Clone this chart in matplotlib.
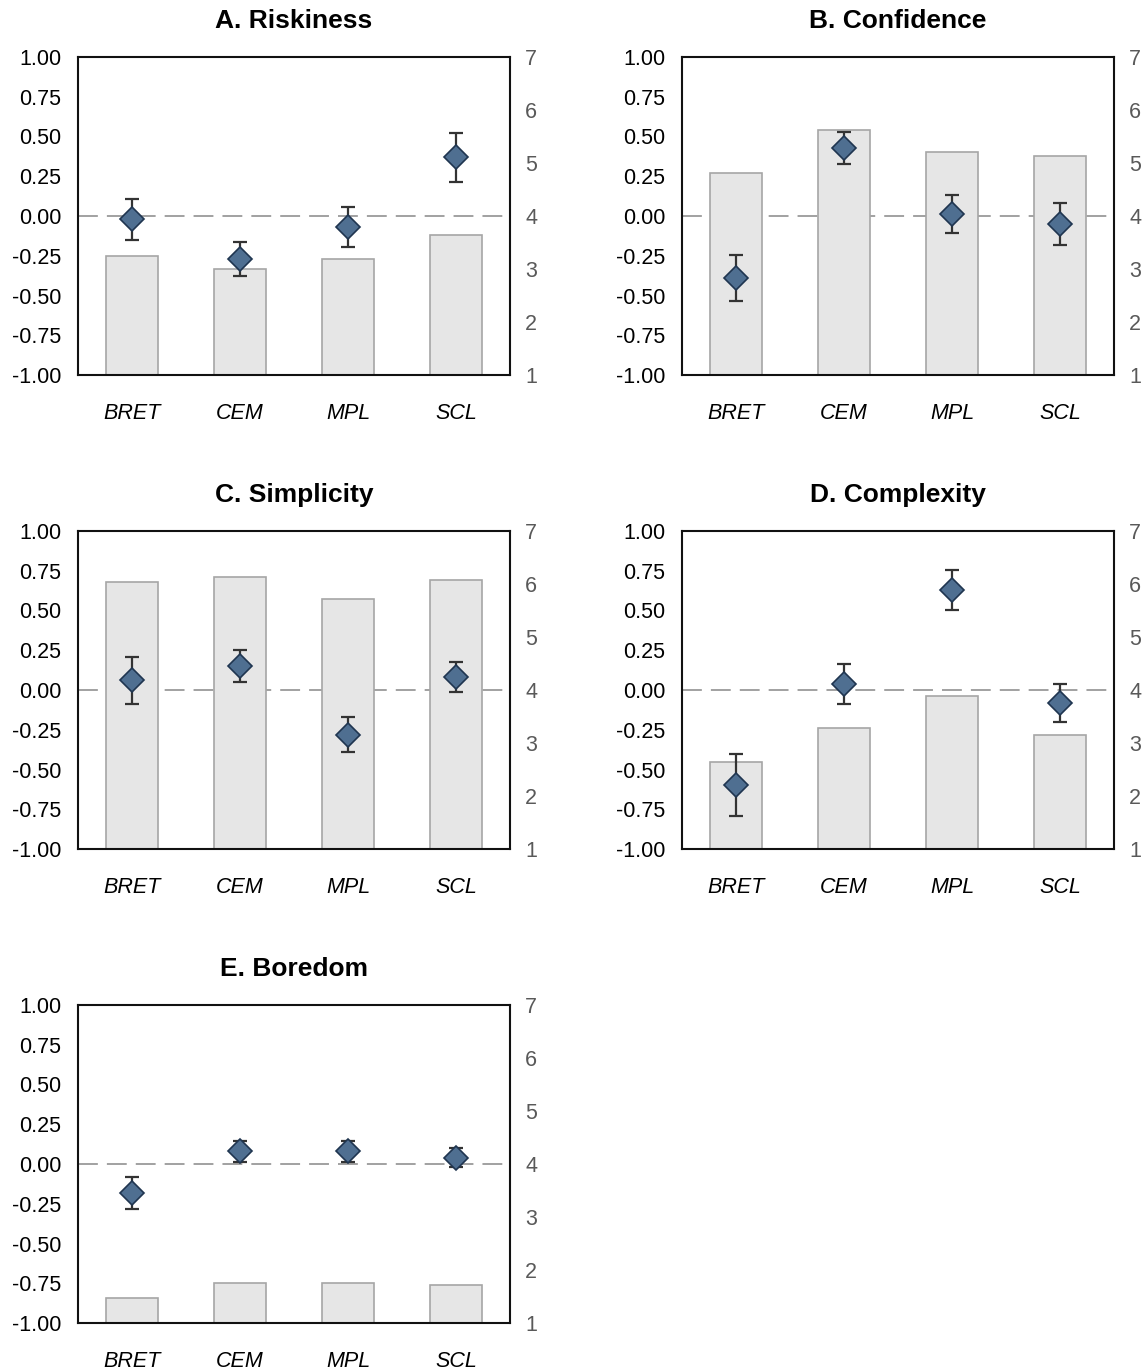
import matplotlib.pyplot as plt
import numpy as np

plt.rcParams['font.family'] = ['Liberation Sans', 'DejaVu Sans']

methods = ["BRET", "CEM", "MPL", "SCL"]
titles = ["A. Riskiness", "B. Confidence", "C. Simplicity", "D. Complexity", "E. Boredom"]

# bar heights, 1-7 rating scale (right axis)
bar_riskiness = [3.25, 3.00, 3.19, 3.64]
bar_confidence = [4.81, 5.62, 5.20, 5.14]
bar_simplicity = [6.04, 6.13, 5.71, 6.07]
bar_complexity = [2.65, 3.28, 3.88, 3.16]
bar_boredom = [1.48, 1.75, 1.75, 1.72]

# diamond estimates and error half-widths (left axis)
est_riskiness = [-0.02, -0.27, -0.07, 0.37]
err_riskiness = [0.13, 0.105, 0.125, 0.155]
est_confidence = [-0.39, 0.43, 0.01, -0.05]
err_confidence = [0.145, 0.10, 0.12, 0.13]
est_simplicity = [0.06, 0.15, -0.28, 0.08]
err_simplicity = [0.15, 0.10, 0.11, 0.095]
est_complexity = [-0.60, 0.04, 0.63, -0.08]
err_complexity = [0.195, 0.125, 0.125, 0.12]
est_boredom = [-0.18, 0.08, 0.08, 0.04]
err_boredom = [0.10, 0.065, 0.065, 0.06]

bars = [bar_riskiness, bar_confidence, bar_simplicity, bar_complexity, bar_boredom]
ests = [est_riskiness, est_confidence, est_simplicity, est_complexity, est_boredom]
errs = [err_riskiness, err_confidence, err_simplicity, err_complexity, err_boredom]

left_ticks = [-1.0, -0.75, -0.5, -0.25, 0.0, 0.25, 0.5, 0.75, 1.0]
right_ticks = [1, 2, 3, 4, 5, 6, 7]

fig = plt.figure(figsize=(11.46, 13.72), dpi=100)

# axes boxes in pixels: left, top
lefts = [78, 682, 78, 682, 78]
tops = [57, 57, 531, 531, 1005]
W, H = 1146, 1372
aw, ah = 432, 318

x = np.arange(len(methods))

for i in range(5):
    ax = fig.add_axes([lefts[i] / W, 1 - (tops[i] + ah) / H, aw / W, ah / H])
    ax2 = ax.twinx()

    # dashed reference line and bars on the right (1-7) scale
    ax2.axhline(4, color="#9a9a9a", lw=1.3, linestyle=(0, (11, 5)), zorder=1)
    ax2.bar(x, np.array(bars[i]) - 1, bottom=1, width=0.49,
            color="#e6e6e6", edgecolor="#a6a6a6", linewidth=1.2, zorder=2)
    ax2.set_ylim(1, 7)
    ax2.set_yticks(right_ticks)
    ax2.tick_params(axis="y", length=0, labelsize=15.5, labelcolor="#595959", pad=11)

    # diamonds on the left scale, drawn on top
    ax.set_zorder(ax2.get_zorder() + 1)
    ax.patch.set_visible(False)
    ax.errorbar(x, ests[i], yerr=errs[i], fmt="none", ecolor="#333333",
                elinewidth=1.6, capsize=5, capthick=1.6, zorder=3)
    ax.plot(x, ests[i], linestyle="none", marker="D", markersize=12,
            markerfacecolor="#4f6f91", markeredgecolor="#1f3550",
            markeredgewidth=1.2, zorder=4)
    ax.set_ylim(-1, 1)
    ax.set_yticks(left_ticks)
    ax.set_yticklabels([f"{t:.2f}" for t in left_ticks])
    ax.set_xlim(-0.5, 3.5)
    ax.set_xticks(x)
    ax.set_xticklabels(methods, fontstyle="italic")
    ax.tick_params(axis="y", length=0, labelsize=15.5, pad=12)
    ax.tick_params(axis="x", length=0, labelsize=15.5, pad=20)
    ax.set_title(titles[i], fontsize=19, fontweight="bold", pad=21)

    for sp in ax2.spines.values():
        sp.set_visible(False)
    for sp in ax.spines.values():
        sp.set_linewidth(1.5)
        sp.set_color("#111111")

fig.savefig("out.png", dpi=100)
